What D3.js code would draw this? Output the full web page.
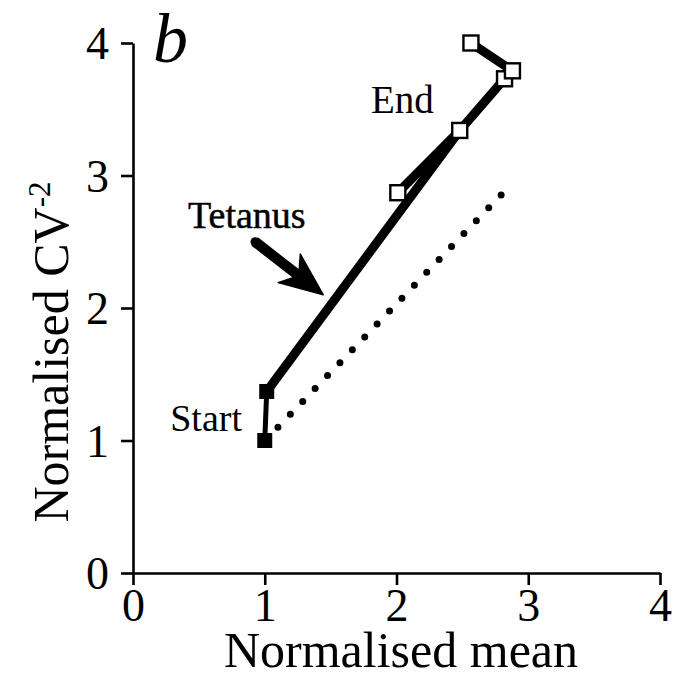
<!DOCTYPE html>
<html>
<head>
<meta charset="utf-8">
<script src="https://cdn.jsdelivr.net/npm/d3@7"></script>
<style>
  body { margin: 0; background: #fff; }
  svg text { font-family: "Liberation Serif", "Times New Roman", serif; fill: #000; }
</style>
</head>
<body>
<div id="chart"></div>
<script>
// values
const xTicks = [0, 1, 2, 3, 4];
const yTicks = [0, 1, 2, 3, 4];

// filled squares: before tetanus
const meanStart = [1.0, 1.015];
const cvStart = [1.0, 1.37];

// open squares: after tetanus
const meanEnd = [2.01, 2.48, 2.82, 2.88, 2.565];
const cvEnd = [2.87, 3.34, 3.73, 3.79, 4.0];

// dotted reference line
const meanRef = [1.1, 2.81];
const cvRef = [1.1, 2.87];

// arrow (tail, tip) in data units
const arrowMean = [0.926, 1.444];
const arrowCV = [2.50, 2.10];

const W = 675, H = 683;
const svg = d3.select("#chart").append("svg")
    .attr("width", W)
    .attr("height", H);

const x = d3.scaleLinear().domain([0, 4]).range([133, 660]);
const y = d3.scaleLinear().domain([0, 4]).range([573, 43]);

// axes
const fmt = d3.format("d");
const xAxis = svg.append("g")
    .attr("transform", `translate(0,${y(0)})`)
    .call(d3.axisBottom(x).tickValues(xTicks).tickFormat(fmt).tickSize(12).tickSizeOuter(0).tickPadding(4));
const yAxis = svg.append("g")
    .attr("transform", `translate(${x(0)},0)`)
    .call(d3.axisLeft(y).tickValues(yTicks).tickFormat(fmt).tickSize(12).tickSizeOuter(0).tickPadding(12));

[xAxis, yAxis].forEach(a => {
    a.selectAll("path, line").attr("stroke", "#000").attr("stroke-width", 2.6);
    a.selectAll("text")
        .style("font-family", '"Liberation Serif", "Times New Roman", serif')
        .style("font-size", "46px")
        .attr("fill", "#000");
});
yAxis.selectAll("text").attr("dy", "0.34em");
xAxis.selectAll("text").attr("dy", "0.70em");

// axis titles
svg.append("text")
    .attr("x", 401)
    .attr("y", 667)
    .attr("text-anchor", "middle")
    .style("font-size", "50px")
    .text("Normalised mean");

const yTitle = svg.append("text")
    .attr("transform", `translate(68,352) rotate(-90)`)
    .attr("text-anchor", "middle")
    .style("font-size", "50px");
yTitle.append("tspan").text("Normalised CV");
yTitle.append("tspan").attr("dy", -18).style("font-size", "31px").text("-2");

// panel letter
svg.append("text")
    .attr("x", 153)
    .attr("y", 62)
    .style("font-size", "70px")
    .style("font-style", "italic")
    .text("b");

const line = d3.line().x(d => x(d[0])).y(d => y(d[1]));
const ptsStart = meanStart.map((m, i) => [m, cvStart[i]]);
const ptsEnd = meanEnd.map((m, i) => [m, cvEnd[i]]);

// dotted line
svg.append("path")
    .attr("d", line(meanRef.map((m, i) => [m, cvRef[i]])))
    .attr("fill", "none")
    .attr("stroke", "#000")
    .attr("stroke-width", 7)
    .attr("stroke-linecap", "round")
    .attr("stroke-dasharray", "0 17.9");

// thin segment between the two start points
svg.append("path")
    .attr("d", line(ptsStart))
    .attr("fill", "none")
    .attr("stroke", "#000")
    .attr("stroke-width", 5);

// thick tetanus track
const track = [ptsStart[1], ptsEnd[1], ptsEnd[2], ptsEnd[3], ptsEnd[4]];
svg.append("path")
    .attr("d", line(track))
    .attr("fill", "none")
    .attr("stroke", "#000")
    .attr("stroke-width", 9)
    .attr("stroke-linejoin", "round");
svg.append("path")
    .attr("d", line([ptsEnd[0], ptsEnd[1]]))
    .attr("fill", "none")
    .attr("stroke", "#000")
    .attr("stroke-width", 9);

// squares
const sq = 15, sqOpen = 15;
svg.selectAll("rect.start").data(ptsStart).enter().append("rect")
    .attr("class", "start")
    .attr("x", d => x(d[0]) - sq / 2)
    .attr("y", d => y(d[1]) - sq / 2)
    .attr("width", sq).attr("height", sq)
    .attr("fill", "#000");

svg.selectAll("rect.end").data(ptsEnd).enter().append("rect")
    .attr("class", "end")
    .attr("x", d => x(d[0]) - sqOpen / 2)
    .attr("y", d => y(d[1]) - sqOpen / 2)
    .attr("width", sqOpen).attr("height", sqOpen)
    .attr("fill", "#fff")
    .attr("stroke", "#000")
    .attr("stroke-width", 2.4);

// arrow
const t0 = [x(arrowMean[0]), y(arrowCV[0])];
const t1 = [x(arrowMean[1]), y(arrowCV[1])];
const dx = t1[0] - t0[0], dy = t1[1] - t0[1];
const len = Math.hypot(dx, dy);
const ux = dx / len, uy = dy / len, nx = -uy, ny = ux;
const headLen = 40, headHalf = 18, shaftHalf = 4.5, notch = 6;
const base = [t1[0] - ux * headLen, t1[1] - uy * headLen];
const inner = [base[0] + ux * notch, base[1] + uy * notch];
const arrowPts = [
    [t0[0] + nx * shaftHalf, t0[1] + ny * shaftHalf],
    [inner[0] + nx * shaftHalf, inner[1] + ny * shaftHalf],
    [base[0] - ux * 3 + nx * headHalf, base[1] - uy * 3 + ny * headHalf],
    t1,
    [base[0] - ux * 3 - nx * headHalf, base[1] - uy * 3 - ny * headHalf],
    [inner[0] - nx * shaftHalf, inner[1] - ny * shaftHalf],
    [t0[0] - nx * shaftHalf, t0[1] - ny * shaftHalf]
];
svg.append("path")
    .attr("d", "M" + arrowPts.map(p => p.join(",")).join("L") + "Z")
    .attr("fill", "#000")
    .attr("stroke", "#000")
    .attr("stroke-width", 1.5)
    .attr("stroke-linejoin", "round");
svg.append("circle").attr("cx", t0[0]).attr("cy", t0[1]).attr("r", shaftHalf).attr("fill", "#000");

// labels
svg.append("text").attr("x", 188).attr("y", 228).style("font-size", "38px")
    .attr("stroke", "#000").attr("stroke-width", 0.5).text("Tetanus");
svg.append("text").attr("x", 371).attr("y", 113).style("font-size", "39px").text("End");
svg.append("text").attr("x", 242).attr("y", 431).attr("text-anchor", "end").style("font-size", "38px").text("Start");
</script>
</body>
</html>
